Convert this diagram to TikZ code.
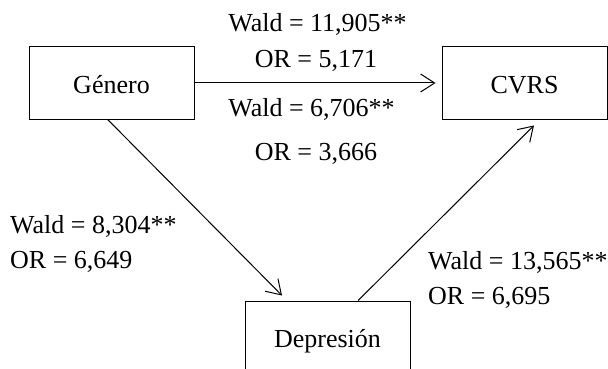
\documentclass[tikz,border=0pt]{standalone}
\usepackage{fontspec}
\setmainfont{Liberation Serif}
\usetikzlibrary{arrows.meta, positioning}
\tikzset{
  varbox/.style = {draw, line width=1pt, minimum width=165pt, minimum height=72pt,
                   inner sep=0pt, text height=20pt, text depth=0pt,
                   font=\fontsize{26}{31}\selectfont},
  stat/.style   = {font=\fontsize{26}{31}\selectfont, inner sep=0pt, anchor=base},
  statl/.style  = {stat, anchor=base west},
  effect/.style = {-{Straight Barb[length=14pt, width=18pt]}, line width=1pt},
}
\begin{document}
\begin{tikzpicture}[x=1pt, y=-1pt, node distance=6mm and 247pt]
        \clip (0,0) rectangle (608,369);
        \node[varbox]                   (gen)  at (111.5,83) {Género};
        \node[varbox, right=of gen]     (cvrs) {CVRS};
        \node[varbox]                   (dep)  at (327.5,337) {Depresión};
        \draw[effect, shorten >=6pt] (gen) -- (cvrs);
        \draw[effect, shorten >=7pt] (gen.-96) -- (dep.138);
        \draw[effect, shorten >=8.5pt] (dep.50) -- (cvrs.-67);
        % estadisticos
        \node[stat]  (wgc)  at (317.5,32) {Wald = 11,905**};
        \node[stat]  (orgc) at (316,67) {OR = 5,171};
        \node[stat]  (wind) at (311.5,116) {Wald = 6,706**};
        \node[stat]  (orind) at (316,160) {OR = 3,666};
        \node[statl] (wgd)  at (10,233) {Wald = 8,304**};
        \node[statl] (orgd) at (10,268) {OR = 6,649};
        \node[statl] (wdc)  at (428,269) {Wald = 13,565**};
        \node[statl] (ordc) at (428,304) {OR = 6,695};
    \end{tikzpicture}
\end{document}
